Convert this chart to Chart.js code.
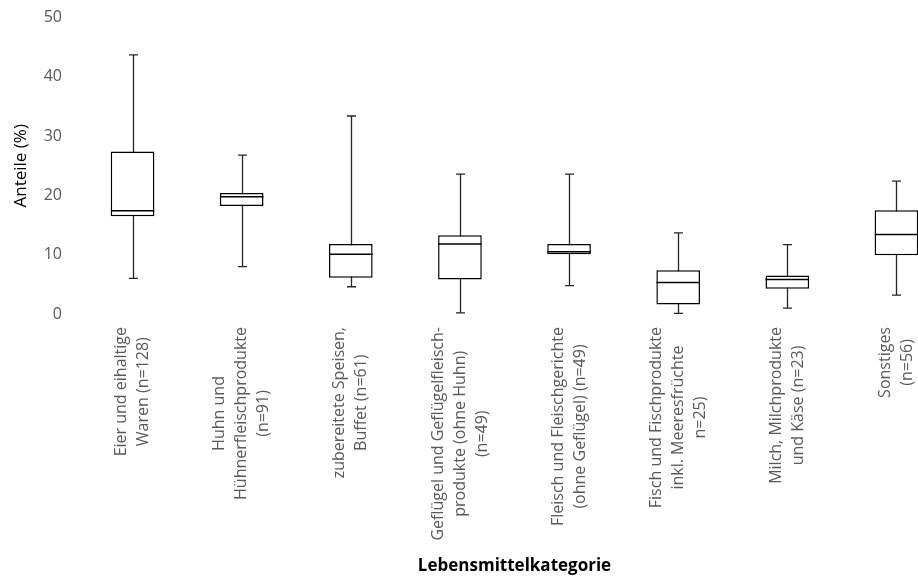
<!DOCTYPE html>
<html>
<head>
<meta charset="utf-8">
<script src="https://cdn.jsdelivr.net/npm/chart.js@4.4.1/dist/chart.umd.min.js"></script>
<style>
  html, body { margin: 0; padding: 0; background: #fff; overflow: hidden; }
  #wrap { width: 951px; height: 579px; }
</style>
</head>
<body>
<div id="wrap"><canvas id="chart"></canvas></div>
<script>
// Kategorien (mehrzeilige Beschriftung)
const categories = [
  ['Eier und eihaltige', 'Waren (n=128)'],
  ['Huhn und', 'Hühnerfleischprodukte', '(n=91)'],
  ['zubereitete Speisen,', 'Buffet (n=61)'],
  ['Geflügel und Geflügelfleisch-', 'produkte (ohne Huhn)', '(n=49)'],
  ['Fleisch und Fleischgerichte', '(ohne Geflügel) (n=49)'],
  ['Fisch und Fischprodukte', 'inkl. Meeresfrüchte', 'n=25)'],
  ['Milch, Milchprodukte', 'und Käse (n=23)'],
  ['Sonstiges', '(n=56)']
];

// Boxplot-Werte (%)
const mins    = [6.0, 8.0, 4.6, 0.2, 4.8, 0.1, 1.0, 3.2];
const q1s     = [16.5, 18.2, 6.1, 5.8, 10.1, 1.6, 4.25, 9.9];
const medians = [17.4, 19.8, 10.1, 11.8, 10.5, 5.3, 5.8, 13.4];
const q3s     = [27.4, 20.4, 11.8, 13.3, 11.8, 7.4, 6.5, 17.5];
const maxs    = [43.7, 26.8, 33.4, 23.6, 23.6, 13.7, 11.7, 22.4];

const yTicks = [0, 10, 20, 30, 40, 50];

const tickColor = '#595959';
const fontFamily = '"Open Sans", "Noto Sans", sans-serif';

// Whisker, Kappen und Median zeichnen
const boxPlugin = {
  id: 'boxExtras',
  beforeDatasetsDraw(chart) {
    const ctx = chart.ctx;
    const xs = chart.scales.x, ys = chart.scales.y;
    ctx.save();
    ctx.strokeStyle = '#262626';
    ctx.lineWidth = 1.3;
    categories.forEach((c, i) => {
      const x = Math.round(xs.getPixelForValue(i)) + 0.5;
      const yMin = ys.getPixelForValue(mins[i]);
      const yMax = ys.getPixelForValue(maxs[i]);
      ctx.beginPath();
      ctx.moveTo(x, yMin); ctx.lineTo(x, yMax);
      ctx.moveTo(x - 4.5, yMin); ctx.lineTo(x + 4.5, yMin);
      ctx.moveTo(x - 4.5, yMax); ctx.lineTo(x + 4.5, yMax);
      ctx.stroke();
    });
    ctx.restore();
  },
  afterDatasetsDraw(chart) {
    const ctx = chart.ctx;
    const meta = chart.getDatasetMeta(0);
    const ys = chart.scales.y;
    ctx.save();
    ctx.strokeStyle = '#000';
    ctx.lineWidth = 1.5;
    meta.data.forEach((bar, i) => {
      const y = ys.getPixelForValue(medians[i]);
      ctx.beginPath();
      ctx.moveTo(bar.x - bar.width / 2, y);
      ctx.lineTo(bar.x + bar.width / 2, y);
      ctx.stroke();
    });
    ctx.restore();
  },
  afterDraw(chart) {
    // gedrehte, zentrierte Kategorienbeschriftung
    const ctx = chart.ctx;
    const xs = chart.scales.x;
    const top = chart.chartArea.bottom + 13;
    const lineH = 22;
    ctx.save();
    ctx.font = '16px ' + fontFamily;
    ctx.fillStyle = tickColor;
    ctx.textAlign = 'center';
    ctx.textBaseline = 'middle';
    categories.forEach((lines, i) => {
      const w = Math.max(...lines.map(l => ctx.measureText(l).width));
      const x = xs.getPixelForValue(i);
      ctx.save();
      ctx.translate(x, top + w / 2);
      ctx.rotate(-Math.PI / 2);
      lines.forEach((l, j) => {
        ctx.fillText(l, 0, (j - (lines.length - 1) / 2) * lineH);
      });
      ctx.restore();
    });
    ctx.restore();
  }
};

const ctx = document.getElementById('chart').getContext('2d');
new Chart(ctx, {
  type: 'bar',
  data: {
    labels: categories,
    datasets: [{
      data: q1s.map((q, i) => [q, q3s[i]]),
      backgroundColor: '#fff',
      borderColor: '#000',
      borderWidth: 1.5,
      borderSkipped: false,
      barPercentage: 0.4,
      categoryPercentage: 1
    }]
  },
  options: {
    responsive: true,
    maintainAspectRatio: false,
    animation: false,
    layout: { padding: { top: 16, left: 0, right: 0, bottom: 0 } },
    plugins: {
      legend: { display: false },
      tooltip: { enabled: false }
    },
    scales: {
      x: {
        grid: { display: false },
        border: { display: false },
        ticks: { display: false },
        title: {
          display: true,
          text: 'Lebensmittelkategorie',
          color: '#000',
          font: { family: fontFamily, size: 17, weight: 'bold' },
          padding: { top: 0, bottom: 3 }
        },
        afterFit(scale) { scale.height = 265; }
      },
      y: {
        min: 0,
        max: 50,
        afterBuildTicks(scale) { scale.ticks = yTicks.map(v => ({ value: v })); },
        grid: { display: false },
        border: { display: false },
        ticks: {
          color: tickColor,
          padding: 8,
          font: { family: fontFamily, size: 16 }
        },
        title: {
          display: true,
          text: 'Anteile (%)',
          color: '#000',
          font: { family: fontFamily, size: 17 },
          padding: { top: 11, bottom: 0 }
        },
        afterFit(scale) { scale.width = 78; }
      }
    }
  },
  plugins: [boxPlugin]
});
</script>
</body>
</html>
